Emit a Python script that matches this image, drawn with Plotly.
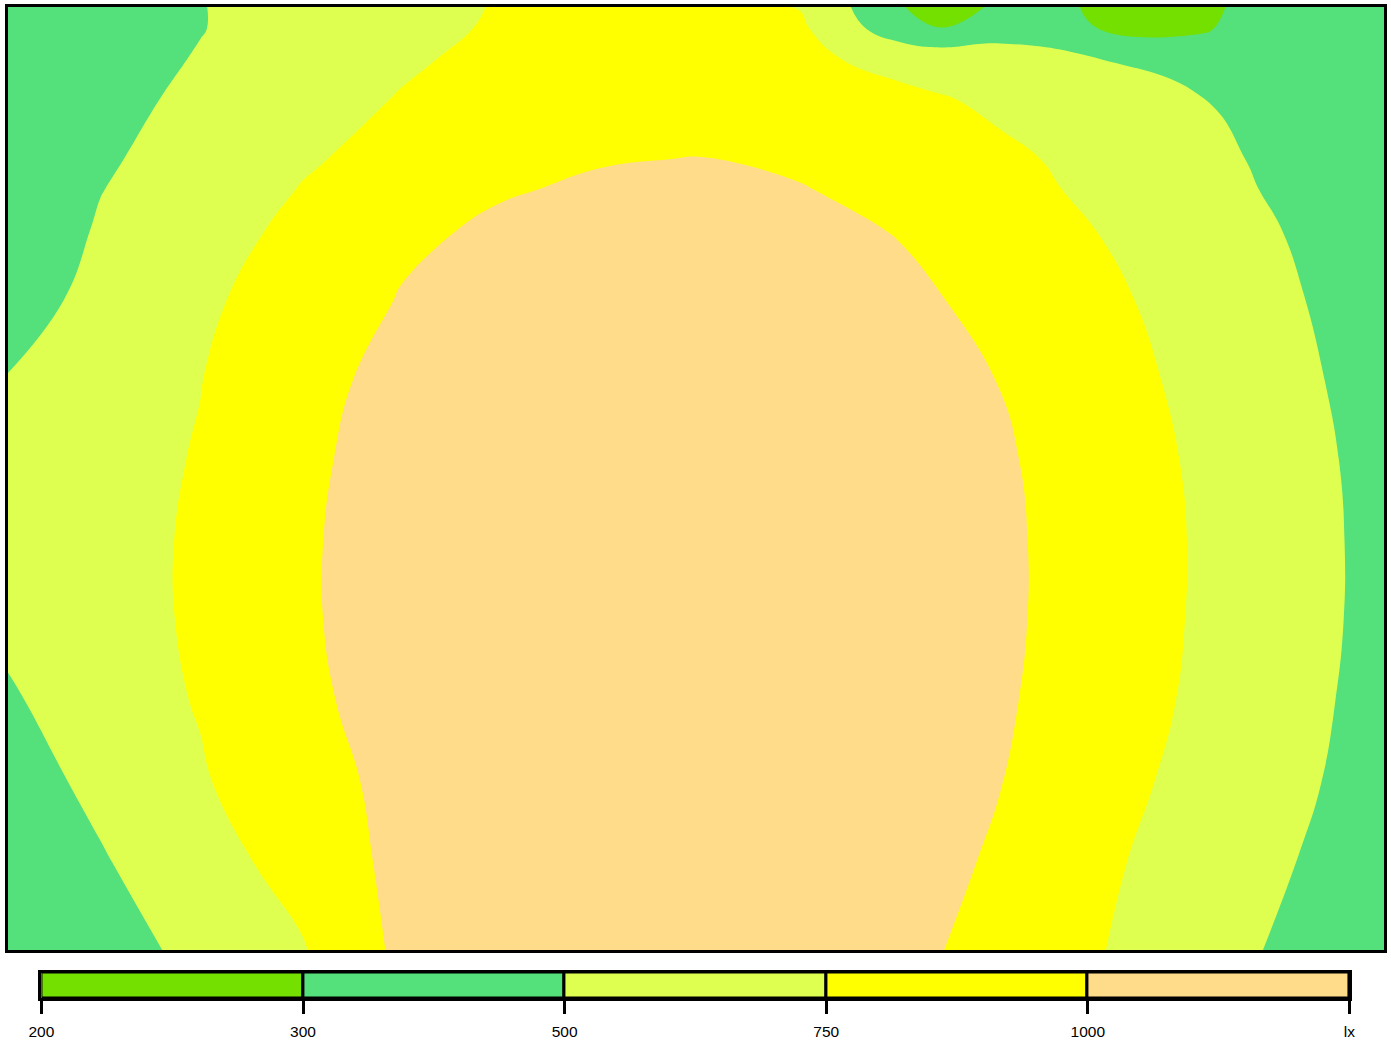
import numpy as np
import plotly.graph_objects as go

# measuring grid: distance from left wall / from top wall (cm)
x_cm = [0, 92, 192, 292, 392, 492, 592, 692, 792, 892, 932, 992, 1092, 1192, 1292, 1375]
y_cm = [0, 22, 52, 92, 152, 182, 222, 292, 372, 452, 532, 612, 692, 772, 852, 940]

# illuminance (lx), one list per grid row, top to bottom
lux_r00 = [390, 440, 495, 582, 673, 763, 848, 826, 740, 310, 261, 330, 296, 285, 392, 420]
lux_r01 = [380, 435, 495, 588, 683, 776, 861, 844, 790, 380, 306, 428, 298, 292, 415, 430]
lux_r02 = [370, 436, 512, 616, 719, 804, 881, 876, 788, 695, 656, 598, 500, 387, 420, 430]
lux_r03 = [360, 446, 546, 656, 761, 838, 914, 932, 862, 792, 764, 709, 607, 505, 440, 430]
lux_r04 = [350, 475, 602, 728, 810, 890, 990, 1005, 960, 870, 838, 790, 690, 560, 440, 430]
lux_r05 = [355, 495, 626, 756, 863, 985, 1025, 1026, 1012, 919, 879, 818, 707, 578, 455, 440]
lux_r06 = [360, 521, 662, 797, 960, 1030, 1045, 1057, 1026, 995, 935, 887, 743, 606, 480, 445]
lux_r07 = [420, 565, 710, 860, 1010, 1040, 1070, 1096, 1058, 1021, 1006, 938, 799, 653, 504, 460]
lux_r08 = [510, 622, 744, 950, 1045, 1075, 1100, 1126, 1084, 1041, 1024, 997, 843, 689, 530, 440]
lux_r09 = [540, 646, 767, 975, 1050, 1085, 1115, 1146, 1101, 1056, 1040, 1025, 890, 712, 558, 445]
lux_r10 = [550, 656, 783, 985, 1050, 1085, 1125, 1155, 1109, 1063, 1055, 1035, 905, 725, 569, 450]
lux_r11 = [545, 651, 783, 985, 1050, 1085, 1125, 1155, 1109, 1063, 1055, 1035, 903, 721, 566, 450]
lux_r12 = [480, 609, 767, 975, 1045, 1075, 1105, 1136, 1094, 1053, 1045, 1025, 885, 705, 553, 440]
lux_r13 = [420, 554, 724, 940, 1040, 1060, 1083, 1103, 1069, 1036, 1022, 1002, 836, 676, 529, 430]
lux_r14 = [380, 484, 649, 840, 1060, 1065, 1061, 1072, 1046, 1020, 1015, 990, 790, 638, 495, 430]
lux_r15 = [350, 441, 545, 726, 1048, 1050, 1045, 1054, 1032, 1011, 1005, 919, 758, 602, 450, 400]

# legend classes
levels = [200, 300, 500, 750, 1000, 1250]
level_labels = ["200", "300", "500", "750", "1000", "lx"]
band_colors = ["#74E000", "#54E07B", "#DFFF50", "#FFFF00", "#FFDC8A"]

lux = np.array([lux_r00, lux_r01, lux_r02, lux_r03, lux_r04, lux_r05, lux_r06, lux_r07,
                lux_r08, lux_r09, lux_r10, lux_r11, lux_r12, lux_r13, lux_r14, lux_r15],
               dtype=float)

# classes are not evenly spaced -> work on class index so the legend boxes are equal
idx = np.arange(len(levels))
z_idx = np.interp(lux, levels, idx)

n = len(band_colors)
colorscale = [[i / (n - 1), c] for i, c in enumerate(band_colors)]

fig = go.Figure()

fig.add_trace(go.Contour(
    x=x_cm, y=y_cm, z=z_idx,
    contours=dict(start=1, end=n - 1, size=1, coloring="fill", showlines=False),
    colorscale=colorscale,
    line=dict(width=0, smoothing=1.3),
    showscale=False,
    hoverinfo="skip",
))

# legend bar below the plan
fig.add_trace(go.Bar(
    x=idx[:-1] + 0.5, y=[1] * n, width=1,
    marker=dict(color=band_colors, line=dict(color="black", width=3)),
    xaxis="x2", yaxis="y2",
    showlegend=False, hoverinfo="skip",
))

frame = dict(showline=True, mirror=True, linecolor="black", linewidth=3,
             showgrid=False, zeroline=False, automargin=False)

fig.update_layout(
    width=1391, height=1043,
    margin=dict(l=8, r=7, t=7, b=0),
    paper_bgcolor="white", plot_bgcolor="white",
    showlegend=False,
    bargap=0,
    xaxis=dict(domain=[0, 1], range=[0, 1375], showticklabels=False, ticks="", **frame),
    yaxis=dict(domain=[0.0898, 1], range=[940, 0], showticklabels=False, ticks="", **frame),
    xaxis2=dict(domain=[0.0243, 0.9749], range=[0, n], anchor="y2",
                tickvals=list(idx), ticktext=level_labels,
                ticks="outside", ticklen=13, tickwidth=3, tickcolor="black",
                ticklabelstandoff=4,
                tickfont=dict(family="Liberation Sans, Arial", size=15.5, color="black"),
                **frame),
    yaxis2=dict(domain=[0.0430, 0.0680], range=[0, 1], anchor="x2",
                showticklabels=False, ticks="", **frame),
)

# drop the default page margin so the figure sits at the window origin
fig.write_html("out.html", config={"displayModeBar": False},
               post_script="document.body.style.margin='0px';")
